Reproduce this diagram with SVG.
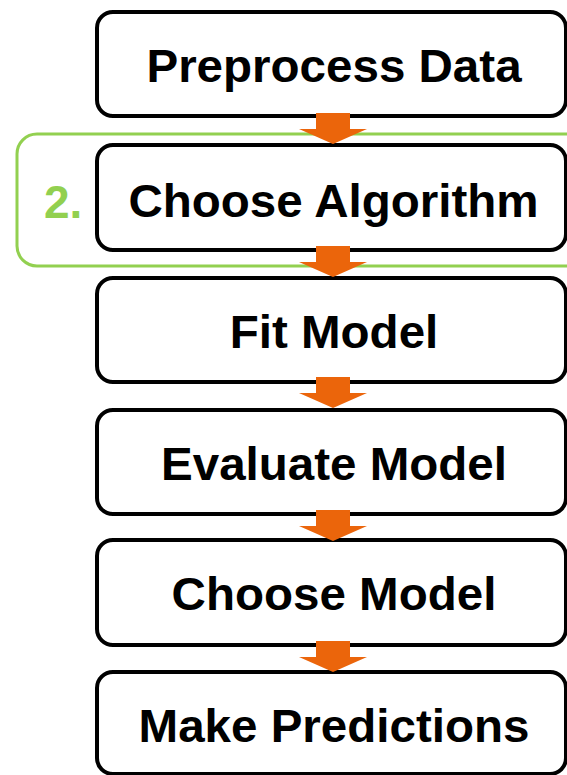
<svg xmlns="http://www.w3.org/2000/svg" width="567" height="775" viewBox="0 0 567 775">
<style>
.box{fill:#fff;stroke:#000;stroke-width:4}
.t{font-family:"Liberation Sans",Arial,sans-serif;font-weight:bold;font-size:45.5px;text-anchor:middle;fill:#000}
.arr{fill:#EB650B}
</style>
<rect width="567" height="775" fill="#fff"/>
<g id="highlight">
<rect x="17" y="134" width="570" height="132" rx="20" fill="none" stroke="#92D050" stroke-width="3"/>
<text x="44" y="218" style="font-family:'Liberation Sans',Arial,sans-serif;font-weight:bold;font-size:46px;fill:#92D050">2.</text>
</g>
<g id="n1"><rect class="box" x="97" y="12" width="469" height="104" rx="16"/><text class="t" transform="translate(334 81.5) scale(1.045 1)">Preprocess Data</text></g>
<g id="n2"><rect class="box" x="97" y="145" width="469" height="105" rx="16"/><text class="t" transform="translate(333.5 216.7) scale(1.045 1)">Choose Algorithm</text></g>
<g id="n3"><rect class="box" x="97" y="278" width="469" height="104" rx="16"/><text class="t" transform="translate(334 348) scale(1.045 1)">Fit Model</text></g>
<g id="n4"><rect class="box" x="97" y="410" width="469" height="104" rx="16"/><text class="t" transform="translate(334 480) scale(1.045 1)">Evaluate Model</text></g>
<g id="n5"><rect class="box" x="97" y="540" width="469" height="105" rx="16"/><text class="t" transform="translate(334 609.5) scale(1.045 1)">Choose Model</text></g>
<g id="n6"><rect class="box" x="97" y="672" width="469" height="102" rx="16"/><text class="t" transform="translate(334 741.5) scale(1.045 1)">Make Predictions</text></g>
<g id="connectors">
<polygon class="arr" points="316,113 350,113 350,129 367,129 333,144 299,129 316,129"/>
<polygon class="arr" points="316,246 350,246 350,262 367,262 333,277 299,262 316,262"/>
<polygon class="arr" points="316,377 350,377 350,393 367,393 333,408 299,393 316,393"/>
<polygon class="arr" points="316,510 350,510 350,526 367,526 333,541 299,526 316,526"/>
<polygon class="arr" points="316,641 350,641 350,657 367,657 333,672 299,657 316,657"/>
</g>
</svg>
